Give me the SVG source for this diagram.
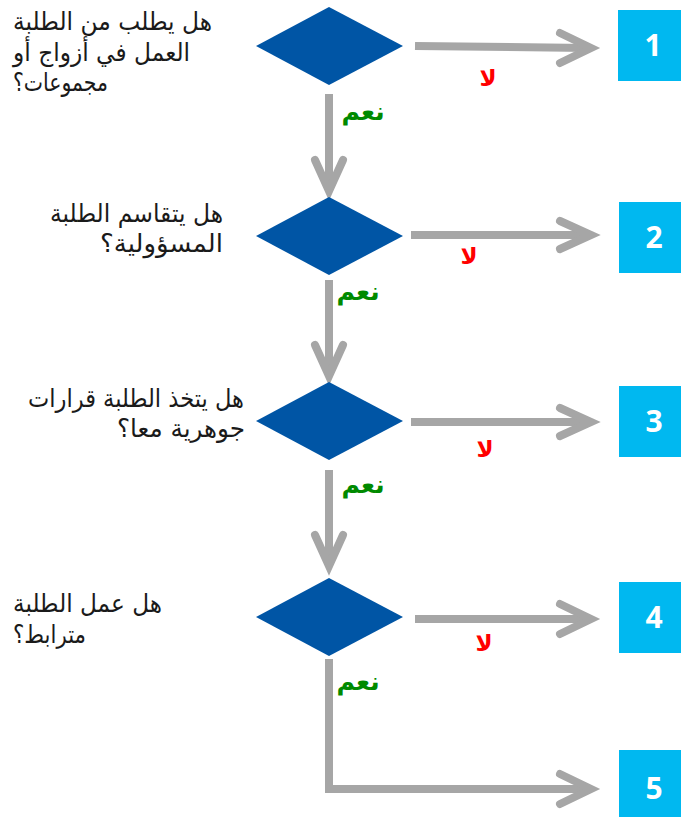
<svg xmlns="http://www.w3.org/2000/svg" width="681" height="817" viewBox="0 0 681 817">
<style>
.q{font-family:"DejaVu Sans","Noto Sans",sans-serif;font-size:25px;fill:#1a1a1a}
.yes{font-family:"DejaVu Sans","Noto Sans",sans-serif;font-size:25px;font-weight:bold;fill:#008a00;text-anchor:middle}
.no{font-family:"DejaVu Sans","Noto Sans",sans-serif;font-size:23px;font-weight:bold;fill:#ff0000;text-anchor:middle}
.dia{fill:#0055a5}
.box{fill:#00b8f0}
.num{font-family:"Open Sans","Liberation Sans",sans-serif;font-size:30px;font-weight:bold;fill:#ffffff;text-anchor:middle}
.ln{fill:none;stroke:#a6a6a6;stroke-width:8}
.hd{fill:none;stroke:#a6a6a6;stroke-width:8;stroke-linecap:round;stroke-linejoin:miter}
</style>
<rect width="681" height="817" fill="#ffffff"/>
<g id="connectors">
<polyline class="ln" points="415,46 588,48"/>
<polyline class="hd" points="560,33 591,48 560,63"/>
<polyline class="ln" points="411,235 588,235"/>
<polyline class="hd" points="560,221 591,235 560,249"/>
<polyline class="ln" points="411,422 588,422"/>
<polyline class="hd" points="560,408 591,422 560,436"/>
<polyline class="ln" points="415,619 588,619"/>
<polyline class="hd" points="560,604 591,619 560,634"/>
<polyline class="ln" points="329,659 329,789 588,789"/>
<polyline class="hd" points="560,774 591,789 560,804"/>
<polyline class="ln" points="329,94 329,188"/>
<polyline class="hd" points="315,160 329,191 343,160"/>
<polyline class="ln" points="329,280 329,373"/>
<polyline class="hd" points="315,345 329,376 343,345"/>
<polyline class="ln" points="329,470 329,563"/>
<polyline class="hd" points="315,535 329,566 343,535"/>
<text class="no" x="488" y="86">لا</text>
<text class="no" x="469" y="264">لا</text>
<text class="no" x="485" y="457">لا</text>
<text class="no" x="484" y="651">لا</text>
<text class="yes" x="363" y="120">نعم</text>
<text class="yes" x="358" y="300">نعم</text>
<text class="yes" x="363" y="493">نعم</text>
<text class="yes" x="358" y="690">نعم</text>
</g>
<g id="q1">
<polygon class="dia" points="256,46 329,7 403,46 329,85"/>
<text class="q" x="13" y="30" textLength="199" lengthAdjust="spacingAndGlyphs">هل يطلب من الطلبة</text>
<text class="q" x="13" y="61" textLength="177" lengthAdjust="spacingAndGlyphs">العمل في أزواج أو</text>
<text class="q" x="13" y="91" textLength="95" lengthAdjust="spacingAndGlyphs">مجموعات؟</text>
</g>
<g id="q2">
<polygon class="dia" points="256,236 329,197 403,236 329,275"/>
<text class="q" x="50" y="222" textLength="173" lengthAdjust="spacingAndGlyphs">هل يتقاسم الطلبة</text>
<text class="q" x="100" y="252" textLength="123" lengthAdjust="spacingAndGlyphs">المسؤولية؟</text>
</g>
<g id="q3">
<polygon class="dia" points="256,421 329,382 403,421 329,460"/>
<text class="q" x="28" y="407" textLength="216" lengthAdjust="spacingAndGlyphs">هل يتخذ الطلبة قرارات</text>
<text class="q" x="117" y="437" textLength="128" lengthAdjust="spacingAndGlyphs">جوهرية معا؟</text>
</g>
<g id="q4">
<polygon class="dia" points="256,617 329,578 403,617 329,656"/>
<text class="q" x="13" y="612" textLength="149" lengthAdjust="spacingAndGlyphs">هل عمل الطلبة</text>
<text class="q" x="13" y="643" textLength="73" lengthAdjust="spacingAndGlyphs">مترابط؟</text>
</g>
<g id="r1"><rect class="box" x="618" y="10" width="70" height="71"/><text class="num" x="653" y="56">1</text></g>
<g id="r2"><rect class="box" x="619" y="202" width="70" height="71"/><text class="num" x="654" y="248">2</text></g>
<g id="r3"><rect class="box" x="619" y="386" width="70" height="71"/><text class="num" x="654" y="432">3</text></g>
<g id="r4"><rect class="box" x="619" y="582" width="70" height="71"/><text class="num" x="654" y="628">4</text></g>
<g id="r5"><rect class="box" x="619" y="750" width="70" height="71"/><text class="num" x="654" y="799">5</text></g>
</svg>
